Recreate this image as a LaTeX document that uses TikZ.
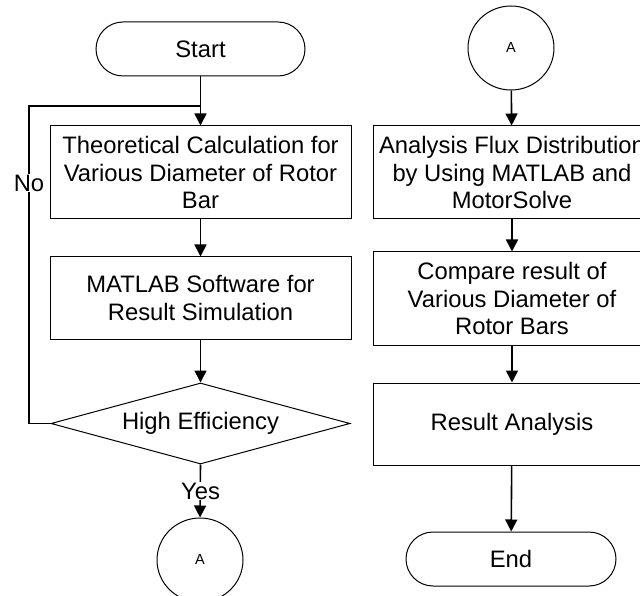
\documentclass[tikz,border=0pt]{standalone}
\usepackage{fontspec}
\setmainfont{Liberation Sans}
\usetikzlibrary{shapes.geometric,arrows.meta}

\begin{document}
\begin{tikzpicture}[x=1pt,y=-1pt,
  every node/.style={font=\fontsize{23.8}{27.5}\selectfont, align=center, inner sep=0pt},
  procbox/.style={draw, line width=1pt, minimum height=#1},
  leftbox/.style={procbox=#1, minimum width=301},
  rightbox/.style={procbox=#1, minimum width=278},
  terminal/.style={draw, line width=1pt, rounded corners=27, minimum width=209, minimum height=54},
  connector/.style={draw, line width=1pt, minimum width=86, minimum height=84, ellipse,
                    font=\fontsize{14.5}{16}\selectfont},
  decision/.style={draw, line width=1pt, diamond, aspect=3.69, minimum width=299, minimum height=81},
  flow/.style={line width=1.6pt, -{Triangle[width=12pt,length=12pt]}},
  plain/.style={line width=1.6pt},
  tag/.style={fill=white, inner sep=1pt}
]
\useasboundingbox (0,0) rectangle (640,596);
\clip (0,0) rectangle (640,596);

% left column
\node[terminal] (start) at (200.5,49) {Start};
\node[leftbox=93] (calc) at (200.5,172.5)
  {Theoretical Calculation for\\Various Diameter of Rotor\\Bar};
\node[leftbox=82] (sim) at (200.5,298) {MATLAB Software for\\Result Simulation};
\node[decision] (eff) at (200.5,423.5) {High Efficiency};
\node[connector] (toA) at (200,560) {A};

% right column
\node[connector] (fromA) at (511,48) {A};
\node[rightbox=93] (flux) at (512,172.5)
  {Analysis Flux Distribution\\by Using MATLAB and\\MotorSolve};
\node[rightbox=93] (cmp) at (512,298.5)
  {Compare result of\\Various Diameter of\\Rotor Bars};
\node[rightbox=82] (res) at (512,424) {Result Analysis};
\node[terminal, minimum width=210] (end) at (511,559) {End};

% connectors, left column
\coordinate (join) at (200.5,106);
\draw[flow] (start) -- (calc);
\draw[flow] (calc) -- (sim);
\draw[flow] (sim) -- (eff);
\draw[plain] (eff.west) -- (29,423.5) coordinate (loopcorner) |- (join);
\node[tag] (no) at (29,183) {No};
\draw[flow] (eff.south) -- (toA.north);
\node[tag] (yes) at (200.5,491) {Yes};

% connectors, right column
\draw[flow] (fromA) -- (flux);
\draw[flow] (flux) -- (cmp);
\draw[flow] (cmp) -- (res);
\draw[flow] (res) -- (end);
\end{tikzpicture}
\end{document}
